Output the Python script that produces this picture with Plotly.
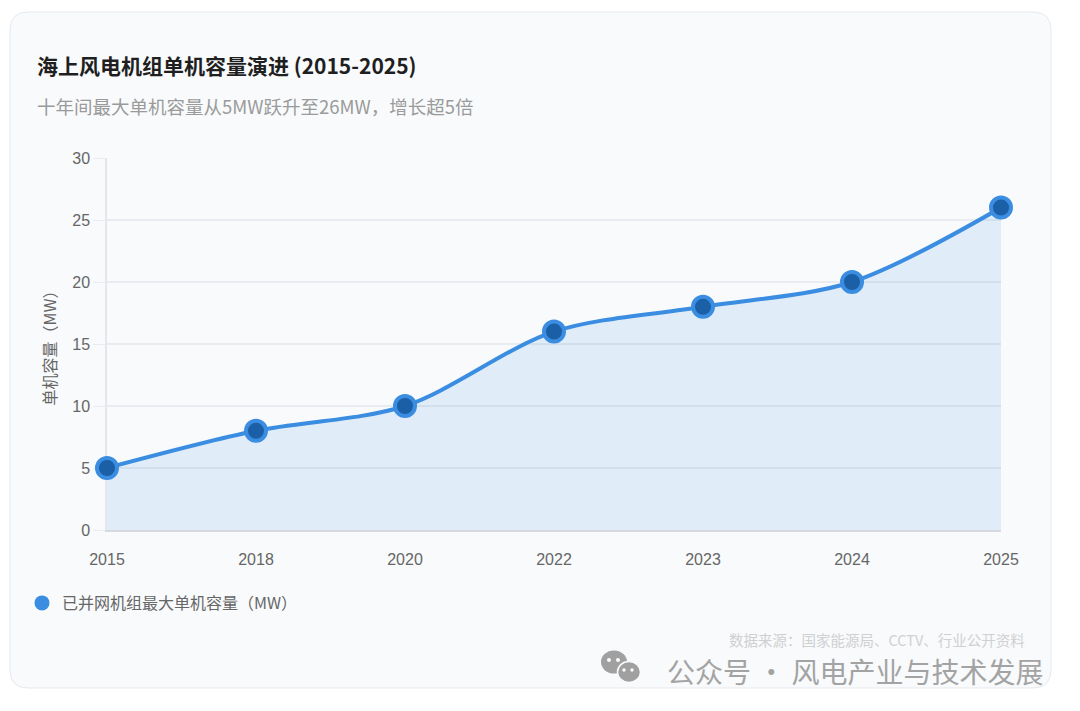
import plotly.graph_objects as go

years = ['2015', '2018', '2020', '2022', '2023', '2024', '2025']
capacity_mw = [5, 8, 10, 16, 18, 20, 26]
y_ticks = [0, 5, 10, 15, 20, 25, 30]

title_text = '海上风电机组单机容量演进 (2015-2025)'
subtitle_text = '十年间最大单机容量从5MW跃升至26MW，增长超5倍'
series_name = '已并网机组最大单机容量（MW）'
source_text = '数据来源：国家能源局、CCTV、行业公开资料'
brand_text = '公众号 · 风电产业与技术发展'

OFF = 8  # page body margin
W, H = 1080 - OFF, 711 - OFF
L, R, T, B = 107, 1001, 158, 530  # plot area in screen pixels
CJK = 'Noto Sans CJK SC'
NUM = 'Liberation Sans, Arial, sans-serif'


def px(x):
    return (x - L) / (R - L)


def py(y):
    return (B - y) / (B - T)


def rounded_rect(x0, y0, x1, y1, r):
    rx = r / (R - L)
    ry = r / (B - T)
    a, b, c, d = px(x0), py(y0), px(x1), py(y1)  # b top, d bottom
    return (f'M {a + rx},{b} L {c - rx},{b} Q {c},{b} {c},{b - ry} '
            f'L {c},{d + ry} Q {c},{d} {c - rx},{d} '
            f'L {a + rx},{d} Q {a},{d} {a},{d + ry} '
            f'L {a},{b - ry} Q {a},{b} {a + rx},{b} Z')


def ellipse(cx, cy, rx, ry, fill, line='rgba(0,0,0,0)', lw=0):
    return dict(type='circle', xref='paper', yref='paper', layer='above',
                x0=px(cx - rx), x1=px(cx + rx), y0=py(cy + ry), y1=py(cy - ry),
                fillcolor=fill, line=dict(color=line, width=lw))


fig = go.Figure()

fig.add_trace(go.Scatter(
    x=years, y=capacity_mw,
    mode='lines+markers',
    line=dict(color='#3a8de0', width=4, shape='spline', smoothing=0.9),
    fill='tozeroy', fillcolor='rgba(58,141,224,0.12)',
    marker=dict(size=20, color='#1b5fa6', line=dict(color='#3a8de0', width=4)),
    showlegend=False, cliponaxis=False,
    hovertemplate='%{x}: %{y} MW<extra></extra>'
))

# legend entry: plain dot like the original
fig.add_trace(go.Scatter(
    x=[None], y=[None], mode='markers', name=series_name,
    marker=dict(size=15, color='#3a8de0')
))

shapes = [
    dict(type='path', xref='paper', yref='paper', layer='below',
         path=rounded_rect(10, 12, 1051, 688, 18),
         fillcolor='#f8fafc', line=dict(color='#e6e9ee', width=1)),
]
# wechat-style icon next to the brand watermark
icon = '#a0a0a0'
shapes += [
    ellipse(614, 662, 13, 11.5, icon),
    ellipse(629, 672, 11.5, 10.5, icon, '#f8fafc', 1.5),
    ellipse(609, 660, 2, 2, '#f8fafc'),
    ellipse(618, 660, 2, 2, '#f8fafc'),
    ellipse(624, 670, 1.7, 1.7, '#f8fafc'),
    ellipse(632, 670, 1.7, 1.7, '#f8fafc'),
]

annotations = [
    dict(text=f'<b>{title_text}</b>', x=px(35), y=py(65), xanchor='left', yanchor='middle',
         font=dict(family=CJK, size=21, color='#1f1f1f')),
    dict(text=subtitle_text, x=px(35), y=py(106), xanchor='left', yanchor='middle',
         font=dict(family=CJK, size=18.5, color='#9a9a9a')),
    dict(text=source_text, x=px(1027), y=py(639), xanchor='right', yanchor='middle',
         font=dict(family=CJK, size=14.5, color='#d0d0d0')),
    dict(text=brand_text, x=px(1046), y=py(671), xanchor='right', yanchor='middle',
         font=dict(family=CJK, size=28, color='#a3a3a3')),
]
for a in annotations:
    a.update(xref='paper', yref='paper', showarrow=False)

fig.update_layout(
    width=W, height=H,
    margin=dict(l=L - OFF, r=W - (R - OFF), t=T - OFF, b=H - (B - OFF), pad=0),
    paper_bgcolor='white',
    plot_bgcolor='rgba(0,0,0,0)',
    shapes=shapes,
    annotations=annotations,
    showlegend=True,
    legend=dict(orientation='h', x=px(22), y=py(603), xanchor='left', yanchor='middle',
                bgcolor='rgba(0,0,0,0)', itemwidth=30,
                font=dict(family=CJK, size=16, color='#666666')),
    hovermode='closest',
)

fig.update_xaxes(
    type='category', range=[0, len(years) - 1],
    showgrid=False, zeroline=False, layer='below traces',
    showline=True, linecolor='#d6dae0', linewidth=2,
    ticks='outside', ticklen=14, tickcolor='rgba(0,0,0,0)',
    tickfont=dict(family=NUM, size=16, color='#666666'),
)
fig.update_yaxes(
    range=[0, 30], tickvals=y_ticks,
    showgrid=True, gridcolor='#e8ebef', gridwidth=1.5, zeroline=False,
    layer='below traces',
    showline=True, linecolor='#e3e6ea', linewidth=1.5,
    ticks='outside', ticklen=12, tickcolor='#e8ebef',
    tickfont=dict(family=NUM, size=16, color='#666666'),
    title=dict(text='单机容量（MW）', standoff=12,
               font=dict(family=CJK, size=16, color='#666666')),
)

fig.write_html('out.html')
